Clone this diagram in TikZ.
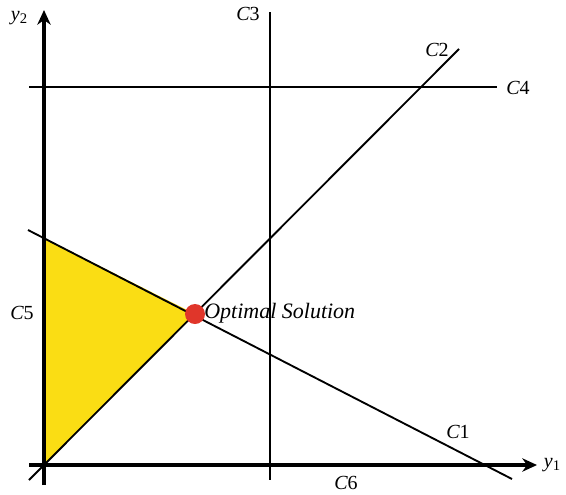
\documentclass[tikz,border=0pt]{standalone}
\usepackage{fontspec}
\setmainfont{Liberation Serif}
\usetikzlibrary{arrows.meta}
\definecolor{feas}{HTML}{FADD14}
\definecolor{optred}{HTML}{E0362A}
\tikzset{
  axis/.style={line width=2.4pt,-{Stealth[length=11pt,width=10pt,inset=3.5pt]}},
  cline/.style={line width=1.4pt},
  lbl/.style={font=\fontsize{15}{17}\selectfont\itshape, inner sep=0pt},
  optlbl/.style={font=\fontsize{16.5}{19}\selectfont\itshape, inner sep=0pt},
}
\newcommand{\lab}[2]{#1{\upshape #2}}
\begin{document}
\begin{tikzpicture}[x=0.75pt,y=-0.75pt]
\useasboundingbox (0,0) rectangle (566,494);
% feasible region
\fill[feas] (44,238) -- (195,314) -- (44,465) -- cycle;
% named points
\coordinate (c1a) at (28,230);
\coordinate (c1b) at (512,479);
\coordinate (c2a) at (29,480);
\coordinate (c2b) at (459,49);
\coordinate (c3a) at (270,12);
\coordinate (c3b) at (270,480);
\coordinate (c4a) at (29,87);
\coordinate (c4b) at (497,87);
\coordinate (xa) at (29,465);
\coordinate (xb) at (537,465);
\coordinate (ya) at (44,485);
\coordinate (yb) at (44,10);
% constraint lines
\draw[cline] (c1a) -- (c1b);
\draw[cline] (c2a) -- (c2b);
\draw[cline] (c3a) -- (c3b);
\draw[cline] (c4a) -- (c4b);
% axes
\draw[axis] (xa) -- (xb);
\draw[axis] (ya) -- (yb);
% optimal point
\fill[optred] (195,314) circle (10);
\node[optlbl, anchor=west] (opt) at (204,313) {Optimal Solution};
% labels
\node[lbl] (ly2) at (19,18) {y\raisebox{-0.3ex}{\fontsize{11}{12}\selectfont\upshape 2}};
\node[lbl] (ly1) at (552,465) {y\raisebox{-0.3ex}{\fontsize{11}{12}\selectfont\upshape 1}};
\node[lbl] (lc3) at (248,14) {\lab{C}{3}};
\node[lbl] (lc2) at (437,50) {\lab{C}{2}};
\node[lbl] (lc4) at (518,88) {\lab{C}{4}};
\node[lbl] (lc5) at (22,313) {\lab{C}{5}};
\node[lbl] (lc1) at (458,432) {\lab{C}{1}};
\node[lbl] (lc6) at (346,483) {\lab{C}{6}};
\end{tikzpicture}
\end{document}
